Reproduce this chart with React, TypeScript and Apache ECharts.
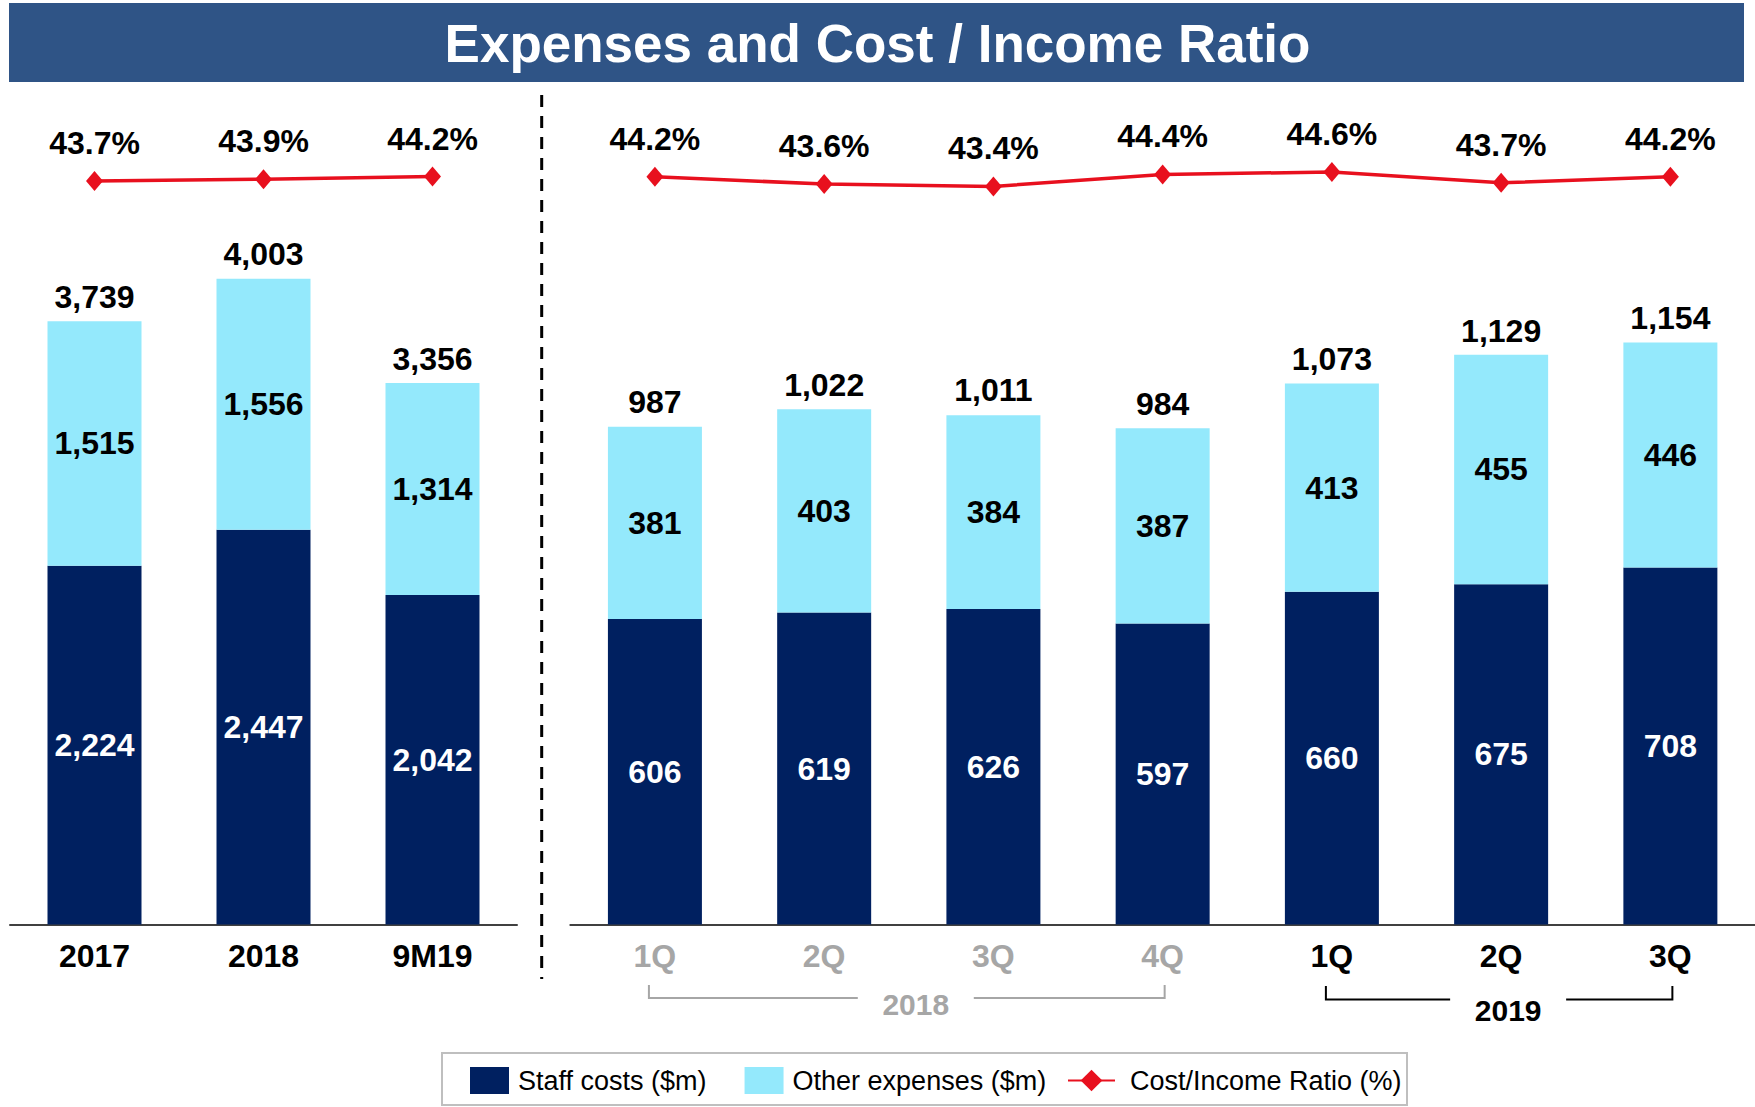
import React, { useEffect, useRef } from 'react';
import * as echarts from 'echarts';

// ---------- data ----------
const annualCategories = ['2017', '2018', '9M19'];
const annualStaff = [2224, 2447, 2042];
const annualOther = [1515, 1556, 1314];
const annualTotal = [3739, 4003, 3356];
const annualRatio = [43.7, 43.9, 44.2];

const quarterCategories = ['1Q', '2Q', '3Q', '4Q', '1Q', '2Q', '3Q'];
const quarterYears = ['2018', '2018', '2018', '2018', '2019', '2019', '2019'];
const quarterStaff = [606, 619, 626, 597, 660, 675, 708];
const quarterOther = [381, 403, 384, 387, 413, 455, 446];
const quarterTotal = [987, 1022, 1011, 984, 1073, 1129, 1154];
const quarterRatio = [44.2, 43.6, 43.4, 44.4, 44.6, 43.7, 44.2];

const seriesNames = ['Staff costs ($m)', 'Other expenses ($m)', 'Cost/Income Ratio (%)'];
const titleText = 'Expenses and Cost / Income Ratio';

// ---------- style ----------
const FONT = '"Liberation Sans", Arial, sans-serif';
const NAVY = '#002060';
const CYAN = '#94E9FC';
const RED = '#E8101E';
const GRAY = '#A6A6A6';
const TITLE_BG = '#2F5486';
const LABEL_SIZE = 32;

const fmt = (v: number) => v.toLocaleString('en-US');
const pct = (v: number) => v.toFixed(1) + '%';

const GRID_TOP = 100;
const GRID_H = 824.6;

function barSeries(name: string, data: number[], color: string, labelColor: string, axis: number, stack: string) {
  return {
    type: 'bar',
    name,
    xAxisIndex: axis,
    yAxisIndex: axis * 2,
    stack,
    barWidth: 94,
    data,
    itemStyle: { color },
    label: {
      show: true,
      position: 'inside',
      color: labelColor,
      fontSize: LABEL_SIZE,
      fontWeight: 'bold',
      fontFamily: FONT,
      formatter: (p: any) => fmt(p.value),
    },
  };
}

function totalSeries(data: number[], axis: number) {
  return {
    type: 'scatter',
    name: 'total' + axis,
    xAxisIndex: axis,
    yAxisIndex: axis * 2,
    data,
    symbolSize: 1,
    silent: true,
    itemStyle: { color: 'rgba(0,0,0,0)', opacity: 1 },
    label: {
      show: true,
      position: 'top',
      distance: 8,
      color: '#000',
      opacity: 1,
      fontSize: LABEL_SIZE,
      fontWeight: 'bold',
      fontFamily: FONT,
      formatter: (p: any) => fmt(p.value),
    },
    z: 5,
  };
}

function ratioSeries(data: number[], axis: number) {
  return {
    type: 'line',
    name: seriesNames[2],
    xAxisIndex: axis,
    yAxisIndex: axis * 2 + 1,
    data,
    symbol: 'diamond',
    symbolSize: [17, 20],
    lineStyle: { color: RED, width: 3.5 },
    itemStyle: { color: RED },
    label: {
      show: true,
      position: 'top',
      distance: 12,
      color: '#000',
      fontSize: LABEL_SIZE,
      fontWeight: 'bold',
      fontFamily: FONT,
      formatter: (p: any) => pct(p.value),
    },
    z: 6,
  };
}

export default function App() {
  const ref = useRef<HTMLDivElement>(null);

  useEffect(() => {
    if (!ref.current) return;
    const chart = echarts.init(ref.current, undefined, { renderer: 'svg' });

    const axisLabelBase = {
      fontSize: LABEL_SIZE,
      fontWeight: 'bold',
      fontFamily: FONT,
      color: '#000',
      margin: 15,
    };
    const axisLine = { show: true, lineStyle: { color: '#404040', width: 2 } };
    const legendText = { fontSize: 27, fontFamily: FONT, color: '#000', padding: [0, 0, 0, 4] };

    const option: any = {
      animation: false,
      backgroundColor: '#ffffff',
      title: {
        text: titleText,
        left: 'center',
        top: 17,
        padding: 0,
        textStyle: { color: '#ffffff', fontSize: 53, fontWeight: 'bold', fontFamily: FONT },
        z: 10,
      },
      legend: [
        {
          left: 470,
          top: 1067,
          padding: 0,
          itemWidth: 39,
          itemHeight: 27,
          itemGap: 38,
          selectedMode: false,
          textStyle: legendText,
          data: [
            { name: seriesNames[0], icon: 'rect' },
            { name: seriesNames[1], icon: 'rect' },
          ],
        },
        {
          left: 1067,
          top: 1067,
          padding: 0,
          itemWidth: 47,
          itemHeight: 27,
          selectedMode: false,
          textStyle: { ...legendText, padding: [0, 0, 0, 10] },
          data: [{ name: seriesNames[2] }],
        },
      ],
      grid: [
        { left: 10, width: 507, top: GRID_TOP, height: GRID_H },
        { left: 570.3, width: 1187.5, top: GRID_TOP, height: GRID_H },
      ],
      xAxis: [
        {
          type: 'category',
          gridIndex: 0,
          data: annualCategories,
          axisLine,
          axisTick: { show: false },
          axisLabel: axisLabelBase,
        },
        {
          type: 'category',
          gridIndex: 1,
          data: quarterCategories.map((q, i) => ({
            value: q,
            textStyle: { color: quarterYears[i] === '2018' ? GRAY : '#000' },
          })),
          axisLine,
          axisTick: { show: false },
          axisLabel: axisLabelBase,
        },
      ],
      yAxis: [
        { type: 'value', gridIndex: 0, min: 0, max: 5110, show: false },
        { type: 'value', gridIndex: 0, min: -40.8, max: 52.9, show: false },
        { type: 'value', gridIndex: 1, min: 0, max: 1635, show: false },
        { type: 'value', gridIndex: 1, min: -18.1, max: 50.6, show: false },
      ],
      series: [
        barSeries(seriesNames[0], annualStaff, NAVY, '#ffffff', 0, 'annual'),
        barSeries(seriesNames[1], annualOther, CYAN, '#000000', 0, 'annual'),
        totalSeries(annualTotal, 0),
        ratioSeries(annualRatio, 0),
        barSeries(seriesNames[0], quarterStaff, NAVY, '#ffffff', 1, 'quarter'),
        barSeries(seriesNames[1], quarterOther, CYAN, '#000000', 1, 'quarter'),
        totalSeries(quarterTotal, 1),
        ratioSeries(quarterRatio, 1),
      ],
    };

    chart.setOption(option);

    // annotation graphics: title band, legend frame, separator, year brackets
    const graphics: any[] = [
      {
        type: 'rect',
        z: 0,
        shape: { x: 9, y: 3, width: 1735, height: 79 },
        style: { fill: TITLE_BG },
      },
      {
        type: 'rect',
        z: 0,
        shape: { x: 442, y: 1053, width: 965, height: 52 },
        style: { fill: 'none', stroke: '#BFBFBF', lineWidth: 2 },
      },
      {
        type: 'line',
        shape: { x1: 541.7, y1: 95, x2: 541.7, y2: 979 },
        style: { stroke: '#000', lineWidth: 3, lineDash: [12, 9] },
      },
    ];

    const years = Array.from(new Set(quarterYears));
    const yearStyle: Record<string, { color: string; top: number; bottom: number; textY: number }> = {
      '2018': { color: GRAY, top: 985, bottom: 998, textY: 1004 },
      '2019': { color: '#000', top: 986, bottom: 999.5, textY: 1010.5 },
    };
    years.forEach((yr) => {
      const i0 = quarterYears.indexOf(yr);
      const i1 = quarterYears.lastIndexOf(yr);
      const x0 = (chart.convertToPixel({ xAxisIndex: 1 } as any, i0) as number) - 6;
      const x1 = (chart.convertToPixel({ xAxisIndex: 1 } as any, i1) as number) + 2;
      const st = yearStyle[yr] || { color: '#000', top: 986, bottom: 999, textY: 1008 };
      const cx = (x0 + x1) / 2 + 9;
      const gap = 58;
      const ls = { stroke: st.color, lineWidth: 2, fill: 'none' };
      graphics.push(
        {
          type: 'polyline',
          shape: { points: [[x0, st.top], [x0, st.bottom], [cx - gap, st.bottom]] },
          style: ls,
        },
        {
          type: 'polyline',
          shape: { points: [[cx + gap, st.bottom], [x1, st.bottom], [x1, st.top]] },
          style: ls,
        },
        {
          type: 'text',
          x: cx,
          y: st.textY,
          style: {
            text: yr,
            fill: st.color,
            fontSize: 30,
            fontWeight: 'bold',
            fontFamily: FONT,
            textAlign: 'center',
            textVerticalAlign: 'middle',
          },
        }
      );
    });

    chart.setOption({ graphic: graphics });

    return () => {
      chart.dispose();
    };
  }, []);

  return (
    <div
      ref={ref}
      style={{ position: 'absolute', left: 0, top: 0, width: 1755, height: 1107, background: '#fff' }}
    />
  );
}
